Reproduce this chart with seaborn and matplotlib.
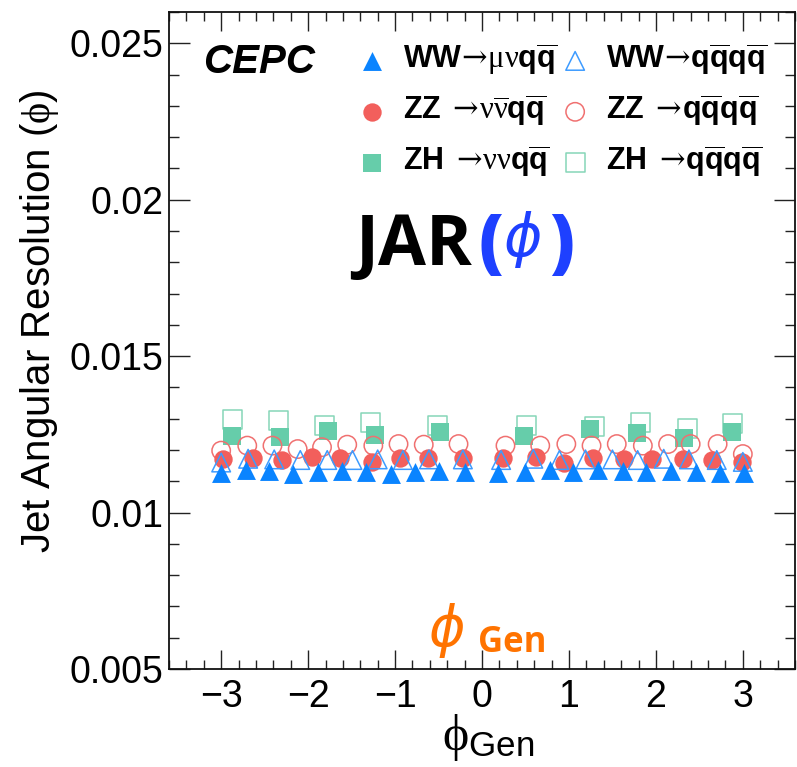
import matplotlib
matplotlib.use("Agg")
import matplotlib.pyplot as plt
import seaborn as sns
import pandas as pd
from matplotlib.ticker import MultipleLocator, FixedLocator

# ---------------- data ----------------
ww_munu_x = [-3.00, -2.72, -2.45, -2.17, -1.89, -1.61, -1.33, -1.05, -0.77, -0.49, -0.20,
             0.18, 0.49, 0.78, 1.05, 1.33, 1.62, 1.89, 2.17, 2.46, 2.74, 3.01]
ww_munu_y = [0.01125, 0.01137, 0.01132, 0.01122, 0.01130, 0.01133, 0.01130, 0.01123, 0.01130, 0.01133, 0.01130,
             0.01128, 0.01130, 0.01137, 0.01130, 0.01135, 0.01132, 0.01130, 0.01132, 0.01130, 0.01128, 0.01127]

ww_qqqq_x = [-3.00, -2.69, -2.39, -2.09, -1.78, -1.49, -1.20, -0.91, -0.61, -0.22,
             0.22, 0.59, 0.89, 1.19, 1.50, 1.79, 2.09, 2.38, 2.70, 3.00]
ww_qqqq_y = [0.01160, 0.01172, 0.01170, 0.01168, 0.01168, 0.01168, 0.01170, 0.01168, 0.01170, 0.01170,
             0.01168, 0.01172, 0.01168, 0.01170, 0.01170, 0.01168, 0.01172, 0.01170, 0.01168, 0.01162]

zz_nunu_x = [-2.98, -2.63, -2.30, -1.95, -1.63, -1.27, -0.94, -0.62, -0.22,
             0.24, 0.62, 0.94, 1.28, 1.63, 1.96, 2.31, 2.65, 2.99]
zz_nunu_y = [0.01171, 0.01176, 0.01168, 0.01178, 0.01176, 0.01161, 0.01176, 0.01174, 0.01176,
             0.01175, 0.01177, 0.01158, 0.01175, 0.01172, 0.01170, 0.01172, 0.01168, 0.01162]

zz_qqqq_x = [-3.00, -2.70, -2.41, -2.12, -1.84, -1.55, -1.25, -0.96, -0.67, -0.27,
             0.27, 0.67, 0.97, 1.26, 1.55, 1.85, 2.14, 2.40, 2.71, 3.00]
zz_qqqq_y = [0.01198, 0.01214, 0.01214, 0.01203, 0.01209, 0.01217, 0.01214, 0.01219, 0.01217, 0.01219,
             0.01214, 0.01214, 0.01219, 0.01214, 0.01219, 0.01214, 0.01219, 0.01219, 0.01219, 0.01187]

zh_nunu_x = [-2.87, -2.32, -1.77, -1.23, -0.48, 0.48, 1.24, 1.78, 2.32, 2.88]
zh_nunu_y = [0.01246, 0.01243, 0.01262, 0.01249, 0.01257, 0.01244, 0.01268, 0.01255, 0.01238, 0.01259]

zh_qqqq_x = [-2.87, -2.34, -1.81, -1.28, -0.51, 0.51, 1.29, 1.82, 2.36, 2.88]
zh_qqqq_y = [0.01298, 0.01295, 0.01278, 0.01289, 0.01278, 0.01278, 0.01276, 0.01289, 0.01270, 0.01284]

labels = {
    "ww_munu": r"$\mathbf{WW}\!\rightarrow\!\mu\nu\mathbf{q\overline{q}}$",
    "ww_qqqq": r"$\mathbf{WW}\!\rightarrow\!\mathbf{q\overline{q}q\overline{q}}$",
    "zz_nunu": r"$\mathbf{ZZ}\ \rightarrow\!\nu\overline{\nu}\mathbf{q\overline{q}}$",
    "zz_qqqq": r"$\mathbf{ZZ}\ \rightarrow\!\mathbf{q\overline{q}q\overline{q}}$",
    "zh_nunu": r"$\mathbf{ZH}\ \rightarrow\!\nu\nu\mathbf{q\overline{q}}$",
    "zh_qqqq": r"$\mathbf{ZH}\ \rightarrow\!\mathbf{q\overline{q}q\overline{q}}$",
}

x_ticks = [-3, -2, -1, 0, 1, 2, 3]
x_tick_labels = ["\u22123", "\u22122", "\u22121", "0", "1", "2", "3"]
y_ticks = [0.005, 0.010, 0.015, 0.020, 0.025]
y_tick_labels = ["0.005", "0.01", "0.015", "0.02", "0.025"]

# ---------------- style ----------------
sns.set_theme(style="ticks")
plt.rcParams["font.family"] = ["Liberation Sans", "DejaVu Sans"]
plt.rcParams["mathtext.fontset"] = "custom"
plt.rcParams["mathtext.rm"] = "DejaVu Serif"
plt.rcParams["mathtext.bf"] = "Liberation Sans:bold"
plt.rcParams["mathtext.it"] = "Liberation Serif"
plt.rcParams["mathtext.sf"] = "Liberation Sans"
plt.rcParams["text.color"] = "black"

W, H = 797, 767
fig = plt.figure(figsize=(W / 100, H / 100), dpi=100)
ax = fig.add_axes([169 / W, 98 / H, 626 / W, 657 / H])
ax.set_facecolor("white")

C_BLUE = "#0a84ff"
C_BLUE_O = "#3d9bff"
C_RED = "#f25f5c"
C_RED_O = "#f07070"
C_GRN = "#66cdaa"
C_GRN_O = "#86d6b8"

series = [
    ("zh_qqqq", zh_qqqq_x, zh_qqqq_y, "s", C_GRN_O, False, 185),
    ("zh_nunu", zh_nunu_x, zh_nunu_y, "s", C_GRN, True, 170),
    ("zz_qqqq", zz_qqqq_x, zz_qqqq_y, "o", C_RED_O, False, 175),
    ("zz_nunu", zz_nunu_x, zz_nunu_y, "o", C_RED, True, 175),
    ("ww_qqqq", ww_qqqq_x, ww_qqqq_y, "^", C_BLUE_O, False, 180),
    ("ww_munu", ww_munu_x, ww_munu_y, "^", C_BLUE, True, 185),
]

handles = {}
for i, (key, xs, ys, mk, col, filled, size) in enumerate(series):
    df = pd.DataFrame({"phi": xs, "jar": ys})
    n_before = len(ax.collections)
    if filled:
        sns.scatterplot(data=df, x="phi", y="jar", ax=ax, marker=mk, s=size,
                        color=col, edgecolor=col, linewidth=0, zorder=3 + i, legend=False)
    else:
        sns.scatterplot(data=df, x="phi", y="jar", ax=ax, marker=mk, s=size,
                        color=col, facecolor="none", edgecolor=col, linewidth=1.1,
                        zorder=3 + i, legend=False)
    handles[key] = ax.collections[n_before]

# ---------------- axes ----------------
ax.set_xlim(-3.6, 3.6)
ax.set_ylim(0.005, 0.026)
ax.xaxis.set_major_locator(FixedLocator(x_ticks))
ax.set_xticklabels(x_tick_labels)
ax.xaxis.set_minor_locator(MultipleLocator(0.2))
ax.yaxis.set_major_locator(FixedLocator(y_ticks))
ax.set_yticklabels(y_tick_labels)
ax.yaxis.set_minor_locator(MultipleLocator(0.001))

for sp in ax.spines.values():
    sp.set_visible(True)
    sp.set_color("#111111")
    sp.set_linewidth(1.3)

ax.tick_params(which="both", direction="in", top=True, right=True,
               color="#222222", width=1.0, labelcolor="black")
ax.tick_params(axis="x", which="major", length=13.5, labelsize=27, pad=7)
ax.tick_params(axis="x", which="minor", length=6.5)
ax.tick_params(axis="y", which="major", length=15, labelsize=27, pad=4)
ax.tick_params(axis="y", which="minor", length=7.5)

ax.set_ylabel("Jet Angular Resolution ($\\phi$)", fontsize=29, color="black")
ax.yaxis.set_label_coords(-0.172, 0.53)
ax.set_xlabel(r"$\phi_{\mathsf{Gen}}$", fontsize=36, color="black")
ax.xaxis.set_label_coords(0.51, -0.066)

# ---------------- legend ----------------
order = ["ww_munu", "zz_nunu", "zh_nunu", "ww_qqqq", "zz_qqqq", "zh_qqqq"]
leg = ax.legend([handles[k] for k in order], [labels[k] for k in order],
                ncol=2, loc="upper left", bbox_to_anchor=(357 / W, 1 - 42 / H),
                bbox_transform=fig.transFigure, frameon=False, fontsize=22,
                handlelength=0.95, handletextpad=0.55, columnspacing=0.12,
                labelspacing=0.48, borderpad=0, borderaxespad=0, scatterpoints=1,
                labelcolor="black")

# ---------------- annotations ----------------
def fx(px):
    return px / W

def fy(py):
    return 1 - py / H

fig.text(fx(203), fy(73), "CEPC", ha="left", va="baseline", fontsize=29,
         fontweight="bold", style="italic", family="Liberation Sans", color="black")

fig.text(fx(355), fy(265), "JAR", ha="left", va="baseline", fontsize=50,
         fontweight="bold", family=["Open Sans", "DejaVu Sans"], color="black")
C_JB = "#1e40ff"
fig.text(fx(478), fy(265), "(", ha="left", va="baseline", fontsize=50,
         fontweight="heavy", family=["Open Sans", "DejaVu Sans"], color=C_JB)
fig.text(fx(522), fy(239), r"$\phi$", ha="center", va="center", fontsize=42,
         math_fontfamily="dejavusans", color=C_JB)
fig.text(fx(549), fy(265), ")", ha="left", va="baseline", fontsize=50,
         fontweight="heavy", family=["Open Sans", "DejaVu Sans"], color=C_JB)

C_OR = "#ff7300"
fig.text(fx(446), fy(630), r"$\phi$", ha="center", va="center", fontsize=40,
         math_fontfamily="dejavusans", color=C_OR)
fig.text(fx(478), fy(652), "Gen", ha="left", va="baseline", fontsize=25,
         fontweight="bold", family=["Open Sans", "DejaVu Sans"], color=C_OR)

fig.savefig("out.png", dpi=100)
